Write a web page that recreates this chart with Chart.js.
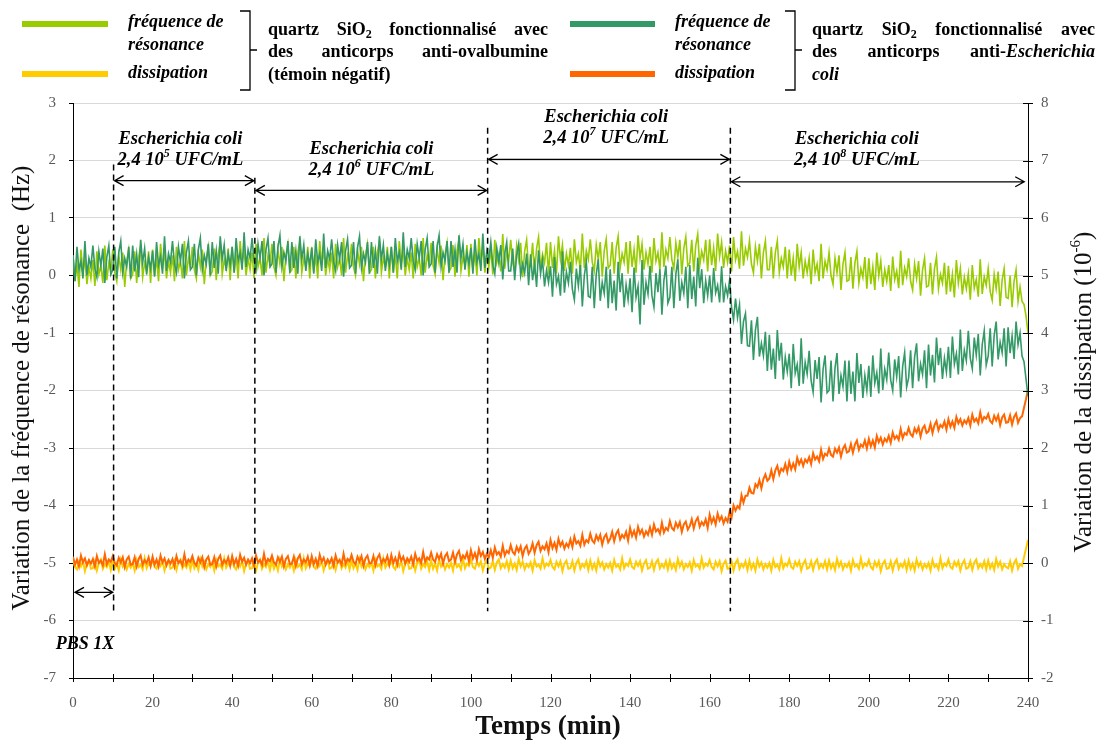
<!DOCTYPE html>
<html>
<head>
<meta charset="utf-8">
<script src="https://cdn.jsdelivr.net/npm/chart.js@4.4.0/dist/chart.umd.min.js"></script>
<style>
  body { margin: 0; background: #fff; }
  canvas { display: block; }
</style>
</head>
<body>
<canvas id="qcmChart" width="1104" height="742"></canvas>
<script>
// sampling grid: one reading every 0.5 min, 0..240 min
const minutes = [];
for (let i = 0; i <= 480; i++) minutes.push(i / 2);

// quartz anti-ovalbumine (témoin négatif) - fréquence (Hz)
const freqControl = [
  0.35,-0.10,0.20,-0.20,0.45,0.05,0.30,-0.15,0.15,-0.05,
  0.27,-0.18,0.42,0.02,0.17,-0.13,0.52,-0.08,0.22,0.07,
  0.45,0.05,-0.10,0.35,0.10,0.40,-0.20,0.25,0.45,-0.05,
  0.02,0.42,-0.13,0.32,0.52,-0.03,0.22,0.07,0.42,-0.13,
  0.45,0.00,0.30,-0.10,0.55,0.15,0.40,-0.05,0.25,0.05,
  0.35,-0.10,0.50,0.10,0.25,-0.05,0.60,0.00,0.30,0.15,
  0.50,0.10,-0.05,0.40,0.15,0.45,-0.15,0.30,0.50,0.00,
  0.07,0.47,-0.08,0.37,0.57,0.02,0.27,0.12,0.47,-0.08,
  0.50,0.05,0.35,-0.05,0.60,0.20,0.45,0.00,0.30,0.10,
  0.40,-0.05,0.55,0.15,0.30,0.00,0.65,0.05,0.35,0.20,
  0.55,0.15,0.00,0.45,0.20,0.50,-0.10,0.35,0.55,0.05,
  0.10,0.50,-0.05,0.40,0.60,0.05,0.30,0.15,0.50,-0.05,
  0.50,0.05,0.35,-0.05,0.60,0.20,0.45,0.00,0.30,0.10,
  0.40,-0.05,0.55,0.15,0.30,0.00,0.65,0.05,0.35,0.20,
  0.55,0.15,0.00,0.45,0.20,0.50,-0.10,0.35,0.55,0.05,
  0.10,0.50,-0.05,0.40,0.60,0.05,0.30,0.15,0.50,-0.05,
  0.50,0.05,0.35,-0.05,0.60,0.20,0.45,0.00,0.30,0.10,
  0.40,-0.05,0.55,0.15,0.30,0.00,0.65,0.05,0.35,0.20,
  0.57,0.17,0.02,0.47,0.22,0.52,-0.08,0.37,0.57,0.07,
  0.13,0.53,-0.02,0.43,0.63,0.08,0.33,0.18,0.53,-0.02,
  0.55,0.10,0.40,0.00,0.65,0.25,0.50,0.05,0.35,0.15,
  0.47,0.02,0.62,0.22,0.37,0.07,0.72,0.12,0.42,0.27,
  0.62,0.22,0.07,0.52,0.27,0.57,-0.03,0.42,0.62,0.12,
  0.17,0.57,0.02,0.47,0.67,0.12,0.37,0.22,0.57,0.02,
  0.58,0.13,0.43,0.03,0.68,0.28,0.53,0.08,0.38,0.18,
  0.48,0.03,0.63,0.23,0.38,0.08,0.73,0.13,0.43,0.28,
  0.63,0.23,0.08,0.53,0.28,0.58,-0.02,0.43,0.63,0.13,
  0.18,0.58,0.03,0.48,0.68,0.13,0.38,0.23,0.58,0.03,
  0.60,0.15,0.45,0.05,0.70,0.30,0.55,0.10,0.40,0.20,
  0.50,0.05,0.65,0.25,0.40,0.10,0.75,0.15,0.45,0.30,
  0.67,0.27,0.12,0.57,0.32,0.62,0.02,0.47,0.67,0.17,
  0.22,0.62,0.07,0.52,0.72,0.17,0.42,0.27,0.62,0.07,
  0.63,0.18,0.48,0.08,0.73,0.33,0.58,0.13,0.43,0.23,
  0.52,0.07,0.67,0.27,0.42,0.12,0.77,0.17,0.47,0.32,
  0.60,0.20,0.05,0.50,0.25,0.55,-0.05,0.40,0.60,0.10,
  0.10,0.50,-0.05,0.40,0.60,0.05,0.30,0.15,0.50,-0.05,
  0.45,0.00,0.30,-0.10,0.55,0.15,0.40,-0.05,0.25,0.05,
  0.30,-0.15,0.45,0.05,0.20,-0.10,0.55,-0.05,0.25,0.10,
  0.40,0.00,-0.15,0.30,0.05,0.35,-0.25,0.20,0.40,-0.10,
  -0.08,0.32,-0.23,0.22,0.42,-0.13,0.12,-0.03,0.32,-0.23,
  0.30,-0.15,0.15,-0.25,0.40,0.00,0.25,-0.20,0.10,-0.10,
  0.18,-0.27,0.33,-0.07,0.08,-0.22,0.43,-0.17,0.13,-0.02,
  0.30,-0.10,-0.25,0.20,-0.05,0.25,-0.35,0.10,0.30,-0.20,
  -0.18,0.22,-0.33,0.12,0.32,-0.23,0.02,-0.13,0.22,-0.33,
  0.17,-0.28,0.02,-0.38,0.27,-0.13,0.12,-0.33,-0.03,-0.23,
  0.03,-0.42,0.18,-0.22,-0.07,-0.37,0.28,-0.32,-0.02,-0.17,
  0.12,-0.28,-0.43,0.02,-0.23,0.07,-0.53,-0.08,0.12,-0.38,
  -0.40,0.00,-0.55,-0.10,0.10,-0.45,-0.20,-0.45,-0.50,-0.70,
  -1.00
];

// quartz anti-Escherichia coli - fréquence (Hz)
const freqEcoli = [
  0.35,-0.10,0.50,0.10,0.25,-0.05,0.60,0.00,0.30,0.15,
  0.52,0.12,-0.03,0.42,0.17,0.47,-0.13,0.32,0.52,0.02,
  0.10,0.50,-0.05,0.40,0.60,0.05,0.30,0.15,0.50,-0.05,
  0.52,0.07,0.37,-0.03,0.62,0.22,0.47,0.02,0.32,0.12,
  0.43,-0.02,0.58,0.18,0.33,0.03,0.68,0.08,0.38,0.23,
  0.60,0.20,0.05,0.50,0.25,0.55,-0.05,0.40,0.60,0.10,
  0.15,0.55,0.00,0.45,0.65,0.10,0.35,0.20,0.55,0.00,
  0.58,0.13,0.43,0.03,0.68,0.28,0.53,0.08,0.38,0.18,
  0.50,0.05,0.65,0.25,0.40,0.10,0.75,0.15,0.45,0.30,
  0.65,0.25,0.10,0.55,0.30,0.60,0.00,0.45,0.65,0.15,
  0.20,0.60,0.05,0.50,0.70,0.15,0.40,0.25,0.60,0.05,
  0.58,0.13,0.43,0.03,0.68,0.28,0.53,0.08,0.38,0.18,
  0.48,0.03,0.63,0.23,0.38,0.08,0.73,0.13,0.43,0.28,
  0.63,0.23,0.08,0.53,0.28,0.58,-0.02,0.43,0.63,0.13,
  0.18,0.58,0.03,0.48,0.68,0.13,0.38,0.23,0.58,0.03,
  0.58,0.13,0.43,0.03,0.68,0.28,0.53,0.08,0.38,0.18,
  0.50,0.05,0.65,0.25,0.40,0.10,0.75,0.15,0.45,0.30,
  0.65,0.25,0.10,0.55,0.30,0.60,0.00,0.45,0.65,0.15,
  0.20,0.60,0.05,0.50,0.70,0.15,0.40,0.25,0.60,0.05,
  0.60,0.15,0.45,0.05,0.70,0.30,0.55,0.10,0.40,0.20,
  0.48,0.03,0.63,0.23,0.38,0.08,0.73,0.13,0.43,0.28,
  0.58,0.18,0.03,0.48,0.23,0.53,-0.07,0.38,0.58,0.08,
  0.08,0.47,-0.08,0.36,0.55,0.00,0.20,0.04,0.38,-0.17,
  0.37,-0.08,0.21,-0.20,0.44,0.03,0.27,-0.19,0.09,-0.12,
  0.16,-0.37,0.32,-0.15,-0.01,-0.35,0.42,-0.30,0.06,-0.13,
  0.24,-0.24,-0.42,0.12,-0.18,0.18,-0.54,0.00,0.24,-0.36,
  -0.38,0.15,-0.57,0.02,0.28,-0.44,-0.12,-0.31,0.15,-0.57,
  0.11,-0.48,-0.09,-0.61,0.24,-0.29,0.04,-0.55,-0.16,-0.42,
  -0.05,-0.64,0.14,-0.38,-0.19,-0.85,0.27,-0.51,-0.12,-0.32,
  0.17,-0.35,-0.55,0.04,-0.29,0.11,-0.68,-0.09,0.17,-0.48,
  -0.38,0.15,-0.57,0.02,0.28,-0.44,-0.12,-0.31,0.15,-0.57,
  0.18,-0.41,-0.02,-0.54,0.31,-0.22,0.11,-0.48,-0.09,-0.35,
  0.00,-0.47,0.13,-0.30,-0.17,-0.47,0.16,-0.47,-0.19,-0.35,
  -0.08,-0.55,-0.77,-0.40,-0.73,-0.51,-1.19,-0.80,-0.66,-1.22,
  -1.23,-0.78,-1.47,-0.95,-0.72,-1.41,-1.18,-1.39,-0.98,-1.66,
  -1.03,-1.64,-1.27,-1.80,-0.95,-1.48,-1.17,-1.81,-1.42,-1.67,
  -1.36,-1.96,-1.19,-1.70,-1.55,-1.92,-1.09,-1.88,-1.51,-1.71,
  -1.31,-1.83,-2.03,-1.47,-1.80,-1.42,-2.21,-1.63,-1.39,-2.04,
  -2.00,-1.48,-2.19,-1.61,-1.35,-2.06,-1.74,-1.93,-1.48,-2.19,
  -1.48,-2.06,-1.67,-2.19,-1.35,-1.87,-1.54,-2.13,-1.74,-2.00,
  -1.57,-2.11,-1.39,-1.87,-1.69,-2.05,-1.27,-1.99,-1.63,-1.81,
  -1.34,-1.82,-2.00,-1.46,-1.76,-1.40,-2.12,-1.58,-1.34,-1.94,
  -1.78,-1.30,-1.96,-1.42,-1.18,-1.84,-1.54,-1.72,-1.30,-1.96,
  -1.20,-1.74,-1.38,-1.86,-1.08,-1.56,-1.26,-1.80,-1.44,-1.68,
  -1.24,-1.78,-1.06,-1.54,-1.36,-1.72,-0.94,-1.66,-1.30,-1.48,
  -0.96,-1.44,-1.62,-1.08,-1.38,-1.02,-1.74,-1.20,-0.96,-1.56,
  -1.40,-0.92,-1.58,-1.04,-0.80,-1.46,-1.16,-1.34,-0.92,-1.58,
  -0.90,-1.35,-1.05,-1.45,-0.80,-1.20,-1.00,-1.40,-1.50,-1.80,
  -2.10
];

// quartz anti-ovalbumine - dissipation (10^-6)
const dissControl = [
  0.05,-0.07,-0.11,0.02,-0.06,0.03,-0.14,-0.01,0.04,-0.10,
  -0.09,0.03,-0.13,0.00,0.06,-0.10,-0.02,-0.07,0.03,-0.12,
  0.04,-0.10,-0.01,-0.13,0.06,-0.06,0.01,-0.11,-0.02,-0.08,
  0.00,-0.13,0.05,-0.07,-0.03,-0.11,0.08,-0.09,-0.01,-0.05,
  0.06,-0.07,-0.10,0.02,-0.05,0.03,-0.13,-0.01,0.05,-0.10,
  -0.08,0.03,-0.12,0.01,0.06,-0.09,-0.02,-0.08,0.03,-0.11,
  0.04,-0.09,-0.01,-0.12,0.07,-0.06,0.02,-0.11,-0.02,-0.07,
  0.01,-0.13,0.05,-0.06,-0.03,-0.10,0.08,-0.08,-0.01,-0.05,
  0.05,-0.07,-0.11,0.02,-0.06,0.03,-0.14,-0.01,0.04,-0.10,
  -0.09,0.03,-0.13,0.00,0.06,-0.10,-0.02,-0.07,0.03,-0.12,
  0.04,-0.10,-0.01,-0.13,0.06,-0.06,0.01,-0.11,-0.02,-0.08,
  0.00,-0.13,0.05,-0.07,-0.03,-0.11,0.08,-0.09,-0.01,-0.05,
  0.06,-0.07,-0.10,0.02,-0.05,0.03,-0.13,-0.01,0.05,-0.10,
  -0.08,0.03,-0.12,0.01,0.06,-0.09,-0.02,-0.08,0.03,-0.11,
  0.04,-0.09,-0.01,-0.12,0.07,-0.06,0.02,-0.11,-0.02,-0.07,
  0.01,-0.13,0.05,-0.06,-0.03,-0.10,0.08,-0.08,-0.01,-0.05,
  0.05,-0.07,-0.11,0.02,-0.06,0.03,-0.14,-0.01,0.04,-0.10,
  -0.09,0.03,-0.13,0.00,0.06,-0.10,-0.02,-0.07,0.03,-0.12,
  0.04,-0.10,-0.01,-0.13,0.06,-0.06,0.01,-0.11,-0.02,-0.08,
  0.00,-0.13,0.05,-0.07,-0.03,-0.11,0.08,-0.09,-0.01,-0.05,
  0.06,-0.07,-0.10,0.02,-0.05,0.03,-0.13,-0.01,0.05,-0.10,
  -0.08,0.03,-0.12,0.01,0.06,-0.09,-0.02,-0.08,0.03,-0.11,
  0.04,-0.09,-0.01,-0.12,0.07,-0.06,0.02,-0.11,-0.02,-0.07,
  0.01,-0.13,0.05,-0.06,-0.03,-0.10,0.08,-0.08,-0.01,-0.05,
  0.05,-0.07,-0.11,0.02,-0.06,0.03,-0.14,-0.01,0.04,-0.10,
  -0.09,0.03,-0.13,0.00,0.06,-0.10,-0.02,-0.07,0.03,-0.12,
  0.04,-0.10,-0.01,-0.13,0.06,-0.06,0.01,-0.11,-0.02,-0.08,
  0.00,-0.13,0.05,-0.07,-0.03,-0.11,0.08,-0.09,-0.01,-0.05,
  0.06,-0.07,-0.10,0.02,-0.05,0.03,-0.13,-0.01,0.05,-0.10,
  -0.08,0.03,-0.12,0.01,0.06,-0.09,-0.02,-0.08,0.03,-0.11,
  0.04,-0.09,-0.01,-0.12,0.07,-0.06,0.02,-0.11,-0.02,-0.07,
  0.01,-0.13,0.05,-0.06,-0.03,-0.10,0.08,-0.08,-0.01,-0.05,
  0.05,-0.07,-0.11,0.02,-0.06,0.03,-0.14,-0.01,0.04,-0.10,
  -0.09,0.03,-0.13,0.00,0.06,-0.10,-0.02,-0.07,0.03,-0.12,
  0.04,-0.10,-0.01,-0.13,0.06,-0.06,0.01,-0.11,-0.02,-0.08,
  0.00,-0.13,0.05,-0.07,-0.03,-0.11,0.08,-0.09,-0.01,-0.05,
  0.06,-0.07,-0.10,0.02,-0.05,0.03,-0.13,-0.01,0.05,-0.10,
  -0.08,0.03,-0.12,0.01,0.06,-0.09,-0.02,-0.08,0.03,-0.11,
  0.04,-0.09,-0.01,-0.12,0.07,-0.06,0.02,-0.11,-0.02,-0.07,
  0.01,-0.13,0.05,-0.06,-0.03,-0.10,0.08,-0.08,-0.01,-0.05,
  0.05,-0.07,-0.11,0.02,-0.06,0.03,-0.14,-0.01,0.04,-0.10,
  -0.09,0.03,-0.13,0.00,0.06,-0.10,-0.02,-0.07,0.03,-0.12,
  0.04,-0.10,-0.01,-0.13,0.06,-0.06,0.01,-0.11,-0.02,-0.08,
  0.00,-0.13,0.05,-0.07,-0.03,-0.11,0.08,-0.09,-0.01,-0.05,
  0.06,-0.07,-0.10,0.02,-0.05,0.03,-0.13,-0.01,0.05,-0.10,
  -0.08,0.03,-0.12,0.01,0.06,-0.09,-0.02,-0.08,0.03,-0.11,
  0.04,-0.09,-0.01,-0.12,0.07,-0.06,0.02,-0.11,-0.02,-0.07,
  -0.09,0.03,-0.13,0.00,0.06,-0.10,-0.02,-0.05,0.10,0.25,
  0.40
];

// quartz anti-Escherichia coli - dissipation (10^-6)
const dissEcoli = [
  0.11,-0.03,0.06,-0.06,0.13,0.01,0.08,-0.04,0.05,-0.01,
  0.07,-0.06,0.12,0.00,0.04,-0.04,0.15,-0.02,0.06,0.02,
  0.12,0.00,-0.04,0.09,0.01,0.10,-0.07,0.06,0.11,-0.03,
  -0.02,0.10,-0.06,0.07,0.13,-0.03,0.05,0.00,0.10,-0.05,
  0.11,-0.03,0.06,-0.06,0.13,0.01,0.08,-0.04,0.05,-0.01,
  0.07,-0.06,0.12,0.00,0.04,-0.04,0.15,-0.02,0.06,0.02,
  0.12,0.00,-0.04,0.09,0.01,0.10,-0.07,0.06,0.11,-0.03,
  -0.02,0.10,-0.06,0.07,0.13,-0.03,0.05,0.00,0.10,-0.05,
  0.12,-0.02,0.07,-0.05,0.14,0.02,0.09,-0.03,0.06,0.00,
  0.08,-0.05,0.13,0.01,0.05,-0.03,0.16,-0.01,0.07,0.03,
  0.13,0.01,-0.03,0.10,0.02,0.11,-0.06,0.07,0.12,-0.02,
  -0.01,0.11,-0.05,0.08,0.14,-0.02,0.06,0.01,0.11,-0.04,
  0.12,-0.02,0.07,-0.05,0.14,0.02,0.09,-0.03,0.06,0.00,
  0.08,-0.05,0.13,0.01,0.05,-0.03,0.16,-0.01,0.07,0.03,
  0.14,0.02,-0.02,0.11,0.03,0.12,-0.05,0.08,0.13,-0.01,
  0.00,0.12,-0.04,0.09,0.15,-0.01,0.07,0.02,0.12,-0.03,
  0.14,0.00,0.09,-0.03,0.16,0.04,0.11,-0.01,0.08,0.02,
  0.11,-0.02,0.16,0.04,0.08,0.00,0.19,0.02,0.10,0.06,
  0.18,0.06,0.02,0.15,0.07,0.16,-0.01,0.12,0.17,0.03,
  0.06,0.18,0.02,0.15,0.21,0.05,0.13,0.08,0.18,0.03,
  0.22,0.08,0.17,0.05,0.24,0.12,0.19,0.07,0.16,0.10,
  0.22,0.09,0.27,0.15,0.19,0.11,0.30,0.13,0.21,0.17,
  0.31,0.19,0.15,0.28,0.20,0.29,0.12,0.25,0.30,0.16,
  0.22,0.34,0.18,0.31,0.37,0.21,0.29,0.24,0.34,0.19,
  0.40,0.26,0.35,0.23,0.42,0.30,0.37,0.25,0.34,0.28,
  0.41,0.28,0.46,0.34,0.38,0.30,0.49,0.32,0.40,0.36,
  0.51,0.39,0.35,0.48,0.40,0.49,0.32,0.45,0.50,0.36,
  0.42,0.54,0.38,0.51,0.57,0.41,0.49,0.44,0.54,0.39,
  0.61,0.47,0.56,0.44,0.63,0.51,0.58,0.46,0.55,0.49,
  0.62,0.49,0.67,0.55,0.59,0.51,0.70,0.53,0.61,0.57,
  0.73,0.61,0.57,0.70,0.62,0.71,0.54,0.67,0.72,0.58,
  0.64,0.76,0.60,0.73,0.79,0.63,0.71,0.66,0.76,0.61,
  0.84,0.70,0.79,0.67,0.86,0.74,0.81,0.69,0.78,0.72,
  0.89,0.79,1.00,0.91,0.99,0.95,1.18,1.05,1.17,1.17,
  1.31,1.22,1.21,1.37,1.32,1.44,1.30,1.46,1.54,1.43,
  1.47,1.61,1.46,1.61,1.69,1.54,1.64,1.60,1.72,1.58,
  1.76,1.63,1.73,1.63,1.83,1.72,1.80,1.69,1.80,1.75,
  1.84,1.72,1.91,1.80,1.85,1.77,1.97,1.81,1.90,1.87,
  1.99,1.88,1.85,1.99,1.92,2.01,1.85,1.99,2.05,1.92,
  1.94,2.07,1.92,2.06,2.13,1.97,2.06,2.02,2.13,1.99,
  2.16,2.03,2.13,2.01,2.21,2.10,2.18,2.06,2.16,2.11,
  2.21,2.09,2.27,2.16,2.21,2.14,2.33,2.17,2.26,2.23,
  2.35,2.24,2.20,2.34,2.27,2.36,2.20,2.34,2.39,2.26,
  2.29,2.42,2.26,2.40,2.47,2.31,2.40,2.36,2.46,2.32,
  2.50,2.37,2.46,2.35,2.54,2.43,2.50,2.39,2.48,2.43,
  2.52,2.39,2.58,2.46,2.51,2.43,2.62,2.46,2.54,2.51,
  2.59,2.47,2.43,2.56,2.48,2.57,2.40,2.53,2.58,2.44,
  2.45,2.57,2.41,2.54,2.60,2.44,2.52,2.55,2.70,2.85,
  3.02
];

// injections (min) and concentration exponents (2,4 10^n UFC/mL)
const injectionTimes = [10.2, 45.7, 104.2, 165.2];
const concentrationExp = ['5', '6', '7', '8'];

const SERIF = "'Liberation Serif', 'Times New Roman', serif";

function pairs(values) {
    return values.map((v, i) => ({ x: minutes[i], y: v }));
}

// draws a list of text runs from x (left), returns width
function drawRuns(ctx, runs, x, y, measureOnly) {
    let cx = x;
    runs.forEach(r => {
        ctx.font = r.font;
        if (!measureOnly) ctx.fillText(r.text, cx, y + (r.dy || 0));
        cx += ctx.measureText(r.text).width;
    });
    return cx - x;
}

function drawCentered(ctx, runs, cx, y) {
    const w = drawRuns(ctx, runs, 0, 0, true);
    drawRuns(ctx, runs, cx - w / 2, y);
}

function drawJustified(ctx, words, x0, x1, y) {
    const widths = words.map(w => drawRuns(ctx, w, 0, 0, true));
    const total = widths.reduce((a, b) => a + b, 0);
    const gap = (x1 - x0 - total) / (words.length - 1);
    let x = x0;
    words.forEach((w, i) => {
        drawRuns(ctx, w, x, y);
        x += widths[i] + gap;
    });
}

function drawArrow(ctx, x1, x2, y) {
    ctx.beginPath();
    ctx.moveTo(x1, y); ctx.lineTo(x2, y);
    ctx.moveTo(x1 + 9, y - 5); ctx.lineTo(x1, y); ctx.lineTo(x1 + 9, y + 5);
    ctx.moveTo(x2 - 9, y - 5); ctx.lineTo(x2, y); ctx.lineTo(x2 - 9, y + 5);
    ctx.stroke();
}

const annotations = {
    id: 'annotations',
    afterDatasetsDraw(chart) {
        const { ctx, scales } = chart;
        const sx = scales.x, sy = scales.y;
        ctx.save();
        ctx.strokeStyle = '#000';
        ctx.fillStyle = '#000';

        // dashed injection lines
        const tops = [1.93, 1.70, 2.57, 2.57];
        ctx.lineWidth = 1.5;
        ctx.setLineDash([6, 4]);
        injectionTimes.forEach((t, i) => {
            const x = sx.getPixelForValue(t);
            ctx.beginPath();
            ctx.moveTo(x, sy.getPixelForValue(tops[i]));
            ctx.lineTo(x, sy.getPixelForValue(-5.84));
            ctx.stroke();
        });
        ctx.setLineDash([]);

        // arrows
        ctx.lineWidth = 1.3;
        const levels = [1.65, 1.48, 2.02, 1.63];
        const ends = injectionTimes.slice(1).concat([239.3]);
        injectionTimes.forEach((t, i) => {
            drawArrow(ctx, sx.getPixelForValue(t) + 1, sx.getPixelForValue(ends[i]) - 1, sy.getPixelForValue(levels[i]));
        });
        drawArrow(ctx, sx.getPixelForValue(0.5), sx.getPixelForValue(10.0), sy.getPixelForValue(-5.51));

        // labels
        const bi = 'bold italic 18.5px ' + SERIF;
        const biSmall = 'bold italic 12px ' + SERIF;
        const centers = [27, 75, 134, 197];
        const line1 = [2.37, 2.19, 2.75, 2.37];
        ctx.textBaseline = 'middle';
        centers.forEach((c, i) => {
            const x = sx.getPixelForValue(c);
            drawCentered(ctx, [{ text: 'Escherichia coli', font: bi }], x, sy.getPixelForValue(line1[i]));
            drawCentered(ctx, [
                { text: '2,4 10', font: bi },
                { text: concentrationExp[i], font: biSmall, dy: -6 },
                { text: ' UFC/mL', font: bi }
            ], x, sy.getPixelForValue(line1[i] - 0.36));
        });
        drawCentered(ctx, [{ text: 'PBS 1X', font: 'bold italic 18px ' + SERIF }], sx.getPixelForValue(3), sy.getPixelForValue(-6.42));
        ctx.restore();
    },
    afterDraw(chart) {
        const { ctx, scales, chartArea } = chart;
        ctx.save();
        ctx.strokeStyle = '#000';
        ctx.lineWidth = 1;

        // crossing ticks on x and right axes
        ctx.beginPath();
        scales.x.ticks.forEach(tk => {
            const x = Math.round(scales.x.getPixelForValue(tk.value)) + 0.5;
            ctx.moveTo(x, chartArea.bottom - 4);
            ctx.lineTo(x, chartArea.bottom + 4);
        });
        scales.y1.ticks.forEach(tk => {
            const y = Math.round(scales.y1.getPixelForValue(tk.value)) + 0.5;
            ctx.moveTo(chartArea.right - 5, y);
            ctx.lineTo(chartArea.right + 5, y);
        });
        ctx.stroke();

        // axis titles
        ctx.fillStyle = '#111';
        ctx.textAlign = 'center';
        ctx.textBaseline = 'middle';
        ctx.font = '25px ' + SERIF;
        ctx.save();
        ctx.translate(22, 388);
        ctx.rotate(-Math.PI / 2);
        ctx.fillText('Variation de la fréquence de résonance  (Hz)', 0, 0);
        ctx.restore();

        ctx.save();
        ctx.translate(1084, 392);
        ctx.rotate(-Math.PI / 2);
        ctx.textAlign = 'left';
        const titleRuns = [
            { text: 'Variation de la dissipation (10', font: '25px ' + SERIF },
            { text: '-6', font: '15px ' + SERIF, dy: -8 },
            { text: ')', font: '25px ' + SERIF }
        ];
        const tw = drawRuns(ctx, titleRuns, 0, 0, true);
        drawRuns(ctx, titleRuns, -tw / 2, 0);
        ctx.restore();

        ctx.font = 'bold 27px ' + SERIF;
        ctx.fillText('Temps (min)', 548, 727);

        // legend
        ctx.textAlign = 'left';
        const swatches = [
            [22, 108, 24, '#99cc00'], [22, 108, 74, '#ffcc00'],
            [570, 655, 24, '#339966'], [570, 655, 74, '#ff6600']
        ];
        ctx.lineWidth = 6;
        swatches.forEach(s => {
            ctx.strokeStyle = s[3];
            ctx.beginPath(); ctx.moveTo(s[0], s[2]); ctx.lineTo(s[1], s[2]); ctx.stroke();
        });
        const bi = 'bold italic 18px ' + SERIF;
        const b = 'bold 18px ' + SERIF;
        const bSmall = 'bold 12px ' + SERIF;
        ctx.fillStyle = '#000';
        [128, 675].forEach(x => {
            ctx.font = bi;
            ctx.fillText('fréquence de', x, 22);
            ctx.fillText('résonance', x, 45);
            ctx.fillText('dissipation', x, 73);
        });

        ctx.strokeStyle = '#000';
        ctx.lineWidth = 1.3;
        [250, 795].forEach(x => {
            ctx.beginPath();
            ctx.moveTo(x - 10, 11); ctx.lineTo(x, 11); ctx.lineTo(x, 90); ctx.lineTo(x - 10, 90);
            ctx.moveTo(x, 50); ctx.lineTo(x + 7, 50);
            ctx.stroke();
        });

        const firstLine = [
            [{ text: 'quartz', font: b }],
            [{ text: 'SiO', font: b }, { text: '2', font: bSmall, dy: 5 }],
            [{ text: 'fonctionnalisé', font: b }],
            [{ text: 'avec', font: b }]
        ];
        drawJustified(ctx, firstLine, 268, 548, 30);
        drawJustified(ctx, [
            [{ text: 'des', font: b }],
            [{ text: 'anticorps', font: b }],
            [{ text: 'anti-ovalbumine', font: b }]
        ], 268, 548, 52);
        drawRuns(ctx, [{ text: '(témoin négatif)', font: b }], 268, 75);

        drawJustified(ctx, firstLine, 812, 1095, 30);
        drawJustified(ctx, [
            [{ text: 'des', font: b }],
            [{ text: 'anticorps', font: b }],
            [{ text: 'anti-', font: b }, { text: 'Escherichia', font: bi }]
        ], 812, 1095, 52);
        drawRuns(ctx, [{ text: 'coli', font: bi }], 812, 75);
        ctx.restore();
    }
};

const tickFont = { family: SERIF, size: 15 };

new Chart(document.getElementById('qcmChart'), {
    type: 'line',
    data: {
        datasets: [
            { label: 'fréquence de résonance - anti-Escherichia coli', data: pairs(freqEcoli), yAxisID: 'y', borderColor: '#339966', borderWidth: 1.6 },
            { label: 'dissipation - anti-Escherichia coli', data: pairs(dissEcoli), yAxisID: 'y1', borderColor: '#ff6600', borderWidth: 2 },
            { label: 'fréquence de résonance - anti-ovalbumine', data: pairs(freqControl), yAxisID: 'y', borderColor: '#99cc00', borderWidth: 1.6 },
            { label: 'dissipation - anti-ovalbumine', data: pairs(dissControl), yAxisID: 'y1', borderColor: '#ffcc00', borderWidth: 2 }
        ]
    },
    options: {
        responsive: false,
        animation: false,
        events: [],
        layout: { padding: { top: 103, left: 0, right: 0, bottom: 0 } },
        elements: {
            point: { radius: 0 },
            line: { tension: 0 }
        },
        plugins: {
            legend: { display: false },
            tooltip: { enabled: false }
        },
        scales: {
            x: {
                type: 'linear',
                min: 0,
                max: 240,
                afterFit: s => { s.height = 64; },
                grid: { drawOnChartArea: false, drawTicks: false },
                border: { color: '#000', width: 1 },
                ticks: {
                    stepSize: 10,
                    autoSkip: false,
                    maxRotation: 0,
                    padding: 16,
                    color: '#595959',
                    font: tickFont,
                    callback: v => (v % 20 === 0 ? v : '')
                }
            },
            y: {
                position: 'left',
                min: -7,
                max: 3,
                afterFit: s => { s.width = 73; },
                grid: { color: '#d9d9d9', lineWidth: 1, tickColor: '#000', tickLength: 4 },
                border: { color: '#000', width: 1 },
                ticks: { stepSize: 1, padding: 13, color: '#595959', font: tickFont }
            },
            y1: {
                position: 'right',
                min: -2,
                max: 8,
                afterFit: s => { s.width = 76; },
                grid: { drawOnChartArea: false, drawTicks: false },
                border: { color: '#000', width: 1 },
                ticks: { stepSize: 1, padding: 13, color: '#595959', font: tickFont }
            }
        }
    },
    plugins: [annotations]
});
</script>
</body>
</html>
